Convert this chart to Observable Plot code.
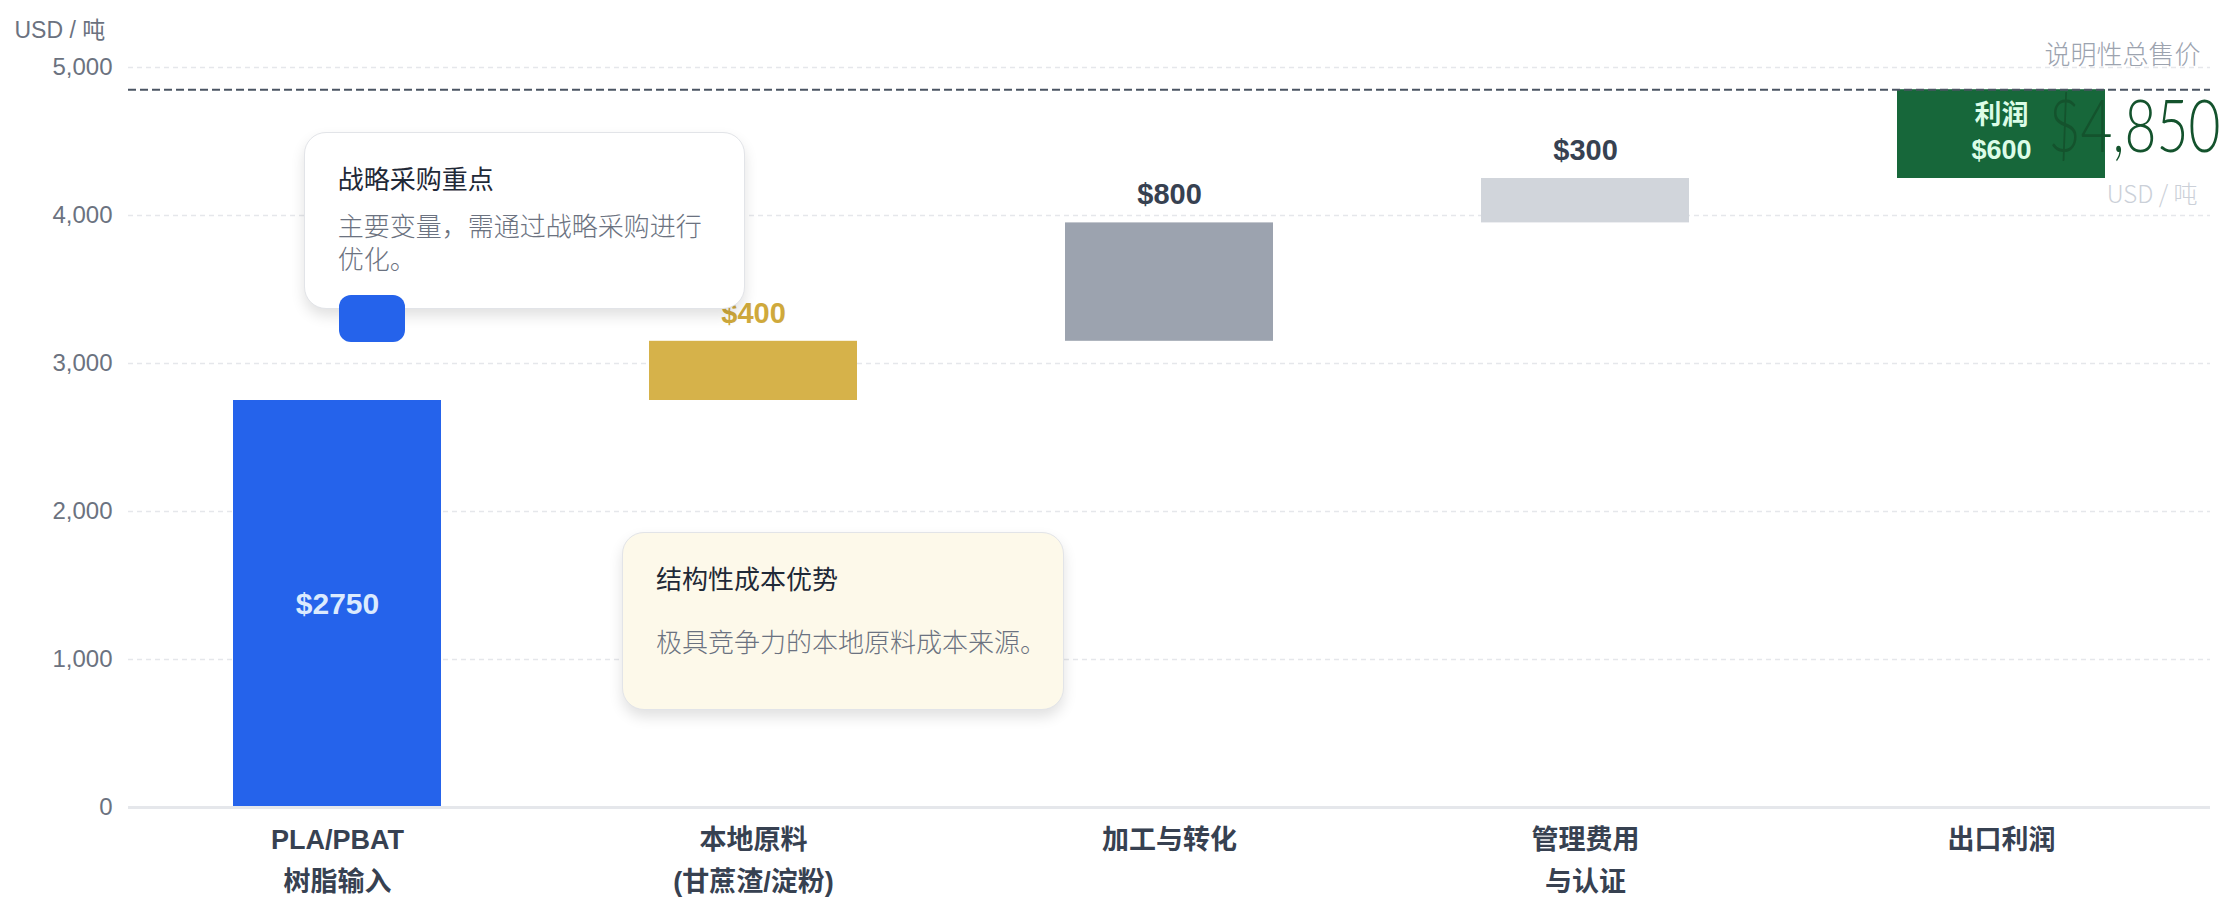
<!DOCTYPE html>
<html><head><meta charset="utf-8">
<script src="https://cdn.jsdelivr.net/npm/d3@7"></script>
<script src="https://cdn.jsdelivr.net/npm/@observablehq/plot@0.6"></script>
<style>
html,body{margin:0;padding:0;background:#fff;}
#wrap{position:relative;width:2231px;height:897px;overflow:hidden;}
#wrap svg{position:absolute;left:0;top:0;}
.card{position:absolute;box-sizing:border-box;border:1.5px solid #e2e4e8;border-radius:22px;box-shadow:0 7px 14px rgba(0,0,0,0.12);font-family:"Noto Sans CJK SC","Noto Sans",sans-serif;padding-left:33px;}
.card .t{font-size:26px;color:#1f2937;line-height:36px;white-space:nowrap;}
.card .b{font-size:26px;color:#6b7280;font-weight:300;line-height:33px;white-space:nowrap;}
.pill{position:absolute;background:#2563eb;border-radius:12px;}
</style></head><body><div id="wrap"></div>
<script>
// ---- data ----
const categories = ["PLA/PBAT 树脂输入", "本地原料", "加工与转化", "管理费用与认证", "出口利润"];
const axisLabels = ["PLA/PBAT\n树脂输入", "本地原料\n(甘蔗渣/淀粉)", "加工与转化", "管理费用\n与认证", "出口利润"];
const stepValues = [2750, 400, 800, 300, 600];
const valueLabels = ["$2750", "$400", "$800", "$300", "利润\n$600"];
const labelInside = [true, false, false, false, true];
const barColors = ["#2563eb", "#d6b24a", "#9ca3af", "#d1d5db", "#17673a"];
const labelColors = ["#dbeafe", "#cfa93c", "#374151", "#374151", "#dcfce7"];
const yTicks = [0, 1000, 2000, 3000, 4000, 5000];
const totalPrice = 4850;
const totalTitle = "说明性总售价";
const unitLabel = "USD / 吨";
const card1Title = "战略采购重点";
const card1Lines = ["主要变量，需通过战略采购进行", "优化。"];
const card2Title = "结构性成本优势";
const card2Lines = ["极具竞争力的本地原料成本来源。"];

// ---- build rows ----
let acc = 0;
const rows = categories.map((c, i) => {
  const r = {cat: c, start: acc, end: acc + stepValues[i], color: barColors[i], label: valueLabels[i], inside: labelInside[i], lc: labelColors[i]};
  acc += stepValues[i];
  return r;
});

const latin = '"Liberation Sans","Noto Sans CJK SC",Arial,sans-serif';

const chart = Plot.plot({
  width: 2231, height: 897,
  marginLeft: 128, marginRight: 21, marginTop: 67, marginBottom: 90,
  style: {fontFamily: latin, background: "transparent", overflow: "visible"},
  x: {domain: categories, paddingInner: 0.5, paddingOuter: 0.25, axis: null},
  y: {domain: [0, 5000], axis: null},
  color: {type: "identity"},
  marks: [
    Plot.ruleY(yTicks, {stroke: "#e5e7eb", strokeDasharray: "5,4", strokeWidth: 1.3}),
    Plot.axisY({ticks: yTicks, tickFormat: d3.format(","), tickSize: 0, tickPadding: 16, fontSize: 24, color: "#6b7280", label: null}),
    Plot.text([unitLabel], {frameAnchor: "top-left", text: d => d, dx: -114, dy: -46, textAnchor: "start", fontSize: 23, fill: "#6b7280"}),
    Plot.axisX({tickFormat: d => axisLabels[categories.indexOf(d)], tickSize: 0, tickPadding: 12, fontSize: 27, fontWeight: "bold", color: "#374151", lineHeight: 1.55, label: null}),
    Plot.barY(rows, {x: "cat", y1: "start", y2: "end", fill: "color"}),
    Plot.ruleY([0], {stroke: "#e5e7eb", strokeWidth: 3}),
    Plot.ruleY([totalPrice], {stroke: "#4b5563", strokeWidth: 2, strokeDasharray: "8,4"}),
    Plot.text(rows.filter(d => !d.inside), {x: "cat", y: "end", text: "label", dy: -28, fill: "lc", fontSize: 29, fontWeight: "bold"}),
    Plot.text(rows.filter(d => d.inside && d.start === 0), {x: "cat", y: d => (d.start + d.end) / 2, text: "label", fill: "lc", fontSize: 30, fontWeight: "bold"}),
    Plot.text(rows.filter(d => d.inside && d.start > 0), {x: "cat", y: d => (d.start + d.end) / 2, text: "label", dy: -4, fill: "lc", fontSize: 27, fontWeight: "bold", lineHeight: 1.3}),
    Plot.text([totalPrice], {y: d => d, frameAnchor: "right", text: () => totalTitle, dx: -10, dy: -34, textAnchor: "end", fill: "#9ca3af", fontSize: 26, fontWeight: 300, fontFamily: '"Noto Sans CJK SC",sans-serif'}),
    Plot.text([totalPrice], {y: d => d, frameAnchor: "right", text: d => "$" + d3.format(",")(d), dx: 10, dy: 39, textAnchor: "end", fill: "#14532d", fontSize: 72, fontWeight: 300, fontFamily: 'Lato,"Noto Sans",sans-serif', className: "bigtotal"}),
    Plot.text([totalPrice], {y: d => d, frameAnchor: "right", text: () => unitLabel, dx: -13, dy: 106, textAnchor: "end", fill: "#cbd0d8", fontSize: 24, fontWeight: 300, fontFamily: '"Noto Sans CJK SC",sans-serif'})
  ]
});

d3.select(chart).selectAll(".bigtotal text").attr("textLength", 172).attr("lengthAdjust", "spacingAndGlyphs");

const wrap = document.getElementById("wrap");
wrap.appendChild(chart);

const sx = chart.scale("x"), sy = chart.scale("y");
const bw = sx.bandwidth;

function addCard(cat, fracX, yTop, w, h, bg, title, lines, bodyGap) {
  const el = document.createElement("div");
  el.className = "card";
  el.style.left = (sx.apply(cat) + fracX * bw) + "px";
  el.style.top = sy.apply(yTop) + "px";
  el.style.width = w + "px";
  el.style.height = h + "px";
  el.style.background = bg;
  el.style.paddingTop = "27px";
  const t = document.createElement("div");
  t.className = "t"; t.textContent = title;
  el.appendChild(t);
  const b = document.createElement("div");
  b.className = "b"; b.style.marginTop = bodyGap + "px";
  b.innerHTML = lines.join("<br>");
  el.appendChild(b);
  wrap.appendChild(el);
  return el;
}
addCard(categories[0], 0.34, 4562, 441, 177, "#ffffff", card1Title, card1Lines, 12);
addCard(categories[1], -0.13, 1858, 442, 178, "#fdf9ea", card2Title, card2Lines, 28);

const pill = document.createElement("div");
pill.className = "pill";
pill.style.left = (sx.apply(categories[0]) + 0.51 * bw) + "px";
pill.style.top = sy.apply(3460) + "px";
pill.style.width = "66px";
pill.style.height = "47px";
wrap.appendChild(pill);
</script>
</body></html>
